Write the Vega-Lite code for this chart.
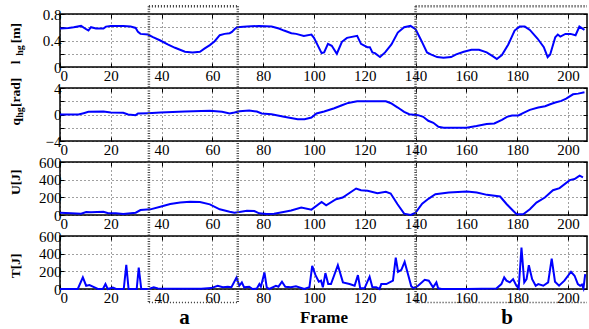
{
  "$schema": "https://vega.github.io/schema/vega-lite/v6.json",
  "padding": {"left": 7, "top": 4, "right": 1, "bottom": 0},
  "spacing": 21,
  "bounds": "flush",
  "config": {
    "view": {"stroke": "black", "strokeWidth": 1.5},
    "font": "Liberation Serif",
    "text": {"font": "Liberation Serif"},
    "axis": {"labelFont": "Liberation Serif", "labelFontSize": 15, "labelColor": "black", "domain": false, "grid": true, "gridColor": "black", "gridDash": [1, 3], "gridOpacity": 0.75, "tickColor": "black", "tickSize": -4, "labelPadding": 3, "titleFont": "Liberation Serif", "titleFontWeight": "bold", "titleColor": "black"},
    "axisX": {"labelPadding": 5}
  },
  "datasets": {
    "l": [{"f":0,"v":0.58},{"f":3.4,"v":0.59},{"f":5.4,"v":0.6},{"f":8.3,"v":0.62},{"f":10.3,"v":0.57},{"f":11.2,"v":0.55},{"f":12.2,"v":0.6},{"f":14.2,"v":0.58},{"f":17.1,"v":0.58},{"f":18.1,"v":0.61},{"f":20,"v":0.62},{"f":24.9,"v":0.62},{"f":27.8,"v":0.61},{"f":29.8,"v":0.59},{"f":30.7,"v":0.53},{"f":31.7,"v":0.5},{"f":34.6,"v":0.49},{"f":36.6,"v":0.45},{"f":39.5,"v":0.4},{"f":42.4,"v":0.34},{"f":45.3,"v":0.29},{"f":49.2,"v":0.23},{"f":52.2,"v":0.22},{"f":55.1,"v":0.23},{"f":57,"v":0.28},{"f":59,"v":0.33},{"f":60.9,"v":0.39},{"f":62.9,"v":0.48},{"f":64.8,"v":0.5},{"f":66.8,"v":0.51},{"f":67.7,"v":0.53},{"f":68.7,"v":0.57},{"f":69.7,"v":0.6},{"f":73.6,"v":0.61},{"f":78.4,"v":0.62},{"f":83.3,"v":0.61},{"f":86.2,"v":0.58},{"f":88.2,"v":0.55},{"f":91.1,"v":0.51},{"f":93,"v":0.5},{"f":96,"v":0.47},{"f":99,"v":0.49},{"f":100,"v":0.44},{"f":103,"v":0.21},{"f":104,"v":0.22},{"f":105.5,"v":0.35},{"f":107,"v":0.32},{"f":109,"v":0.2},{"f":111,"v":0.38},{"f":113,"v":0.44},{"f":117,"v":0.47},{"f":118.5,"v":0.35},{"f":121,"v":0.3},{"f":122,"v":0.3},{"f":123,"v":0.22},{"f":124,"v":0.21},{"f":126,"v":0.15},{"f":128,"v":0.22},{"f":130.5,"v":0.34},{"f":133,"v":0.52},{"f":135.5,"v":0.6},{"f":138,"v":0.62},{"f":140,"v":0.57},{"f":142,"v":0.42},{"f":144.5,"v":0.22},{"f":146,"v":0.19},{"f":148.5,"v":0.15},{"f":151,"v":0.14},{"f":154,"v":0.15},{"f":156,"v":0.19},{"f":159,"v":0.23},{"f":162,"v":0.26},{"f":165,"v":0.26},{"f":168,"v":0.22},{"f":170.5,"v":0.16},{"f":172,"v":0.12},{"f":174,"v":0.18},{"f":176.5,"v":0.34},{"f":179,"v":0.55},{"f":181,"v":0.61},{"f":183,"v":0.61},{"f":185,"v":0.56},{"f":188,"v":0.43},{"f":190.5,"v":0.3},{"f":192,"v":0.15},{"f":193,"v":0.19},{"f":195,"v":0.45},{"f":196,"v":0.49},{"f":197,"v":0.46},{"f":199,"v":0.5},{"f":201,"v":0.5},{"f":203,"v":0.48},{"f":204.5,"v":0.61},{"f":206.5,"v":0.56}],
    "q": [{"f":0,"v":0},{"f":7.3,"v":0},{"f":9.3,"v":0.2},{"f":11.2,"v":0.4},{"f":17.1,"v":0.45},{"f":20,"v":0.3},{"f":24.9,"v":0.25},{"f":26.8,"v":0},{"f":29.8,"v":-0.1},{"f":30.7,"v":0.15},{"f":34.6,"v":0.2},{"f":39.5,"v":0.3},{"f":49.2,"v":0.45},{"f":59,"v":0.55},{"f":63.8,"v":0.4},{"f":66.8,"v":0.15},{"f":68.7,"v":0.3},{"f":70.7,"v":0.5},{"f":74.5,"v":0.6},{"f":77.5,"v":0.45},{"f":79.4,"v":0.15},{"f":83.3,"v":0.05},{"f":88.2,"v":-0.35},{"f":93.6,"v":-0.7},{"f":96.3,"v":-0.7},{"f":99,"v":-0.45},{"f":101,"v":0.15},{"f":104,"v":0.45},{"f":108,"v":0.95},{"f":111,"v":1.4},{"f":113.5,"v":1.75},{"f":117,"v":2},{"f":123,"v":2},{"f":128.3,"v":2},{"f":130.3,"v":1.7},{"f":133,"v":1.05},{"f":135.5,"v":0.4},{"f":137.5,"v":0.05},{"f":141,"v":-0.1},{"f":143,"v":-0.35},{"f":145,"v":-0.95},{"f":147,"v":-1.25},{"f":149,"v":-1.85},{"f":151,"v":-2},{"f":160,"v":-2},{"f":164,"v":-1.75},{"f":168,"v":-1.45},{"f":171,"v":-1.35},{"f":174,"v":-0.8},{"f":176,"v":-0.35},{"f":178,"v":-0.15},{"f":180.5,"v":-0.15},{"f":182.5,"v":0.25},{"f":185,"v":0.7},{"f":188.3,"v":1.05},{"f":191,"v":1.25},{"f":193,"v":1.55},{"f":195,"v":1.8},{"f":197.4,"v":2.05},{"f":199.3,"v":2.4},{"f":202,"v":3.05},{"f":204,"v":3.15},{"f":206.5,"v":3.35}],
    "u": [{"f":0,"v":26},{"f":4.4,"v":19},{"f":8.3,"v":15},{"f":10.3,"v":34},{"f":12.2,"v":30},{"f":17.1,"v":37},{"f":19,"v":19},{"f":22,"v":19},{"f":24.9,"v":11},{"f":29.8,"v":26},{"f":31.7,"v":56},{"f":35.6,"v":64},{"f":39.5,"v":94},{"f":43.4,"v":124},{"f":47.3,"v":142},{"f":51.2,"v":150},{"f":55.1,"v":146},{"f":59,"v":120},{"f":62.9,"v":64},{"f":66.8,"v":37},{"f":68.7,"v":26},{"f":70.7,"v":34},{"f":73.6,"v":49},{"f":76.5,"v":45},{"f":78.4,"v":19},{"f":81.4,"v":11},{"f":84.3,"v":15},{"f":88,"v":35},{"f":91,"v":50},{"f":95,"v":84},{"f":99,"v":61},{"f":103,"v":148},{"f":104.8,"v":110},{"f":108.7,"v":179},{"f":111.3,"v":198},{"f":116.6,"v":300},{"f":118.5,"v":281},{"f":121.1,"v":274},{"f":125,"v":247},{"f":128.3,"v":262},{"f":130.2,"v":243},{"f":132.9,"v":122},{"f":135.5,"v":15},{"f":138.1,"v":0},{"f":140,"v":27},{"f":142.6,"v":129},{"f":145.2,"v":186},{"f":147.8,"v":236},{"f":153.1,"v":255},{"f":160.2,"v":266},{"f":164.1,"v":255},{"f":168.1,"v":228},{"f":173.3,"v":209},{"f":175.9,"v":122},{"f":178.5,"v":46},{"f":179.8,"v":8},{"f":182.4,"v":8},{"f":185,"v":65},{"f":187.6,"v":141},{"f":190.9,"v":198},{"f":194.1,"v":281},{"f":196.7,"v":304},{"f":200.7,"v":395},{"f":202.6,"v":407},{"f":204.6,"v":445},{"f":205.9,"v":426}],
    "t": [{"f":0,"v":0},{"f":7,"v":0},{"f":9,"v":131},{"f":10.3,"v":37},{"f":11.6,"v":45},{"f":13.6,"v":19},{"f":14.9,"v":0},{"f":16.9,"v":0},{"f":17.9,"v":56},{"f":18.8,"v":0},{"f":20.8,"v":15},{"f":22.1,"v":0},{"f":25.1,"v":0},{"f":26.1,"v":273},{"f":27,"v":0},{"f":30.2,"v":0},{"f":31,"v":243},{"f":32,"v":0},{"f":35,"v":0},{"f":36.9,"v":19},{"f":38.5,"v":5},{"f":45,"v":3},{"f":55.6,"v":3},{"f":59.5,"v":10},{"f":62.1,"v":37},{"f":64.1,"v":19},{"f":66.1,"v":26},{"f":67.5,"v":20},{"f":69.5,"v":131},{"f":70.6,"v":37},{"f":71.6,"v":75},{"f":72.5,"v":19},{"f":74.5,"v":26},{"f":75.8,"v":0},{"f":77.5,"v":5},{"f":78.5,"v":56},{"f":79.1,"v":26},{"f":80.5,"v":187},{"f":81.4,"v":19},{"f":82.4,"v":0},{"f":85,"v":37},{"f":86,"v":26},{"f":87.4,"v":82},{"f":88.7,"v":26},{"f":90.9,"v":19},{"f":92.9,"v":30},{"f":96.2,"v":0},{"f":98.2,"v":19},{"f":99.3,"v":262},{"f":100.6,"v":157},{"f":101.9,"v":82},{"f":102.8,"v":94},{"f":103.5,"v":19},{"f":104.5,"v":180},{"f":105.6,"v":56},{"f":106.7,"v":56},{"f":109.4,"v":270},{"f":111.4,"v":75},{"f":114,"v":56},{"f":116,"v":37},{"f":117.3,"v":157},{"f":118.2,"v":8},{"f":119.9,"v":8},{"f":121.9,"v":139},{"f":123,"v":19},{"f":124.5,"v":19},{"f":125.8,"v":0},{"f":126.5,"v":56},{"f":128.5,"v":56},{"f":131.1,"v":94},{"f":132.2,"v":356},{"f":133.1,"v":195},{"f":134.4,"v":217},{"f":135.7,"v":307},{"f":137,"v":169},{"f":138.3,"v":30},{"f":139.4,"v":8},{"f":141,"v":37},{"f":143.6,"v":105},{"f":145.2,"v":94},{"f":146.9,"v":19},{"f":148.2,"v":75},{"f":148.9,"v":8},{"f":150.2,"v":0},{"f":160,"v":0},{"f":171.8,"v":5},{"f":173.8,"v":56},{"f":174.9,"v":131},{"f":175.8,"v":94},{"f":177.1,"v":75},{"f":178.4,"v":112},{"f":179.7,"v":37},{"f":180.6,"v":8},{"f":181.7,"v":468},{"f":182.8,"v":75},{"f":183.7,"v":112},{"f":184.6,"v":270},{"f":185.9,"v":112},{"f":187.3,"v":37},{"f":188.3,"v":56},{"f":190.3,"v":37},{"f":192.2,"v":75},{"f":193.6,"v":345},{"f":194.9,"v":82},{"f":196.5,"v":37},{"f":198.6,"v":94},{"f":201.2,"v":195},{"f":202.6,"v":150},{"f":203.9,"v":56},{"f":204.8,"v":37},{"f":205.5,"v":50},{"f":206.1,"v":8},{"f":206.8,"v":169}],
    "vl": [{"f":35},{"f":70},{"f":140}],
    "br": [{"a":35,"b":70},{"a":140,"b":207.5}],
    "ab": [{"f":49,"s":"a"},{"f":176,"s":"b"}],
    "one": [{}]
  },
  "vconcat": [
    {
      "width": 527, "height": 53,
      "resolve": {"axis": {"x": "independent", "y": "independent"}},
      "layer": [
        {"data": {"name": "l"}, "mark": {"type": "line", "color": "#0000ff", "strokeWidth": 2},
         "encoding": {
           "x": {"field": "f", "type": "quantitative", "scale": {"domain": [0, 207.5], "nice": false, "zero": false}, "axis": {"values": [0,20,40,60,80,100,120,140,160,180,200], "title": null}},
           "y": {"field": "v", "type": "quantitative", "scale": {"domain": [0, 0.8], "nice": false}, "axis": {"values": [0,0.2,0.4,0.6,0.8], "title": null, "labelExpr": "datum.value == 0 ? '0' : format(datum.value, '.1f')"}}}},
        {"data": {"name": "l"}, "mark": {"type": "point", "opacity": 0},
         "encoding": {
           "x": {"field": "f", "type": "quantitative", "axis": {"orient": "top", "values": [0,20,40,60,80,100,120,140,160,180,200], "labels": false, "grid": false, "title": null}},
           "y": {"field": "v", "type": "quantitative", "axis": {"orient": "right", "values": [0,0.2,0.4,0.6,0.8], "labels": false, "grid": false, "title": null}}}},
        {"data": {"name": "vl"}, "mark": {"type": "rule", "color": "#444", "strokeWidth": 2.5, "strokeDash": [1, 1.5]},
         "encoding": {"x": {"field": "f", "type": "quantitative", "axis": null}, "y": {"datum": 0.916, "axis": null}, "y2": {"datum": -0.33}}},
        {"data": {"name": "br"}, "mark": {"type": "rule", "color": "#333", "strokeWidth": 2.5, "strokeDash": [1, 2]},
         "encoding": {"x": {"field": "a", "type": "quantitative", "axis": null}, "x2": {"field": "b"}, "y": {"datum": 0.916, "axis": null}}},
        {"data": {"name": "one"}, "mark": {"type": "text", "text": "l", "angle": 270, "align": "left", "baseline": "alphabetic", "font": "Liberation Serif", "fontWeight": "bold", "fontSize": 13.5},
         "encoding": {"x": {"datum": -15.9, "axis": null}, "y": {"datum": 0.04, "axis": null}}},
        {"data": {"name": "one"}, "mark": {"type": "text", "text": "hg", "angle": 270, "align": "left", "baseline": "alphabetic", "font": "Liberation Serif", "fontWeight": "bold", "fontSize": 10},
         "encoding": {"x": {"datum": -14.4, "axis": null}, "y": {"datum": 0.17, "axis": null}}},
        {"data": {"name": "one"}, "mark": {"type": "text", "text": "[m]", "angle": 270, "align": "left", "baseline": "alphabetic", "font": "Liberation Serif", "fontWeight": "bold", "fontSize": 13.5},
         "encoding": {"x": {"datum": -15.9, "axis": null}, "y": {"datum": 0.36, "axis": null}}}
      ]
    },
    {
      "width": 527, "height": 53,
      "resolve": {"axis": {"x": "independent", "y": "independent"}},
      "layer": [
        {"data": {"name": "q"}, "mark": {"type": "line", "color": "#0000ff", "strokeWidth": 2},
         "encoding": {
           "x": {"field": "f", "type": "quantitative", "scale": {"domain": [0, 207.5], "nice": false, "zero": false}, "axis": {"values": [0,20,40,60,80,100,120,140,160,180,200], "title": null}},
           "y": {"field": "v", "type": "quantitative", "scale": {"domain": [-4, 4], "nice": false}, "axis": {"values": [-4,-2,0,2,4], "title": null}}}},
        {"data": {"name": "q"}, "mark": {"type": "point", "opacity": 0},
         "encoding": {
           "x": {"field": "f", "type": "quantitative", "axis": {"orient": "top", "values": [0,20,40,60,80,100,120,140,160,180,200], "labels": false, "grid": false, "title": null}},
           "y": {"field": "v", "type": "quantitative", "axis": {"orient": "right", "values": [-4,-2,0,2,4], "labels": false, "grid": false, "title": null}}}},
        {"data": {"name": "vl"}, "mark": {"type": "rule", "color": "#444", "strokeWidth": 2.5, "strokeDash": [1, 1.5]},
         "encoding": {"x": {"field": "f", "type": "quantitative", "axis": null}, "y": {"datum": 4, "axis": null}, "y2": {"datum": -7.1}}},
        {"data": {"name": "one"}, "mark": {"type": "text", "text": "q", "angle": 270, "align": "left", "baseline": "alphabetic", "font": "Liberation Serif", "fontWeight": "bold", "fontSize": 13.5},
         "encoding": {"x": {"datum": -15.9, "axis": null}, "y": {"datum": -1.67, "axis": null}}},
        {"data": {"name": "one"}, "mark": {"type": "text", "text": "hg", "angle": 270, "align": "left", "baseline": "alphabetic", "font": "Liberation Serif", "fontWeight": "bold", "fontSize": 10},
         "encoding": {"x": {"datum": -14.4, "axis": null}, "y": {"datum": -0.49, "axis": null}}},
        {"data": {"name": "one"}, "mark": {"type": "text", "text": "[rad]", "angle": 270, "align": "left", "baseline": "alphabetic", "font": "Liberation Serif", "fontWeight": "bold", "fontSize": 13.5},
         "encoding": {"x": {"datum": -15.9, "axis": null}, "y": {"datum": 1.14, "axis": null}}}
      ]
    },
    {
      "width": 527, "height": 53,
      "resolve": {"axis": {"x": "independent", "y": "independent"}},
      "layer": [
        {"data": {"name": "u"}, "mark": {"type": "line", "color": "#0000ff", "strokeWidth": 2},
         "encoding": {
           "x": {"field": "f", "type": "quantitative", "scale": {"domain": [0, 207.5], "nice": false, "zero": false}, "axis": {"values": [0,20,40,60,80,100,120,140,160,180,200], "title": null}},
           "y": {"field": "v", "type": "quantitative", "scale": {"domain": [0, 600], "nice": false}, "axis": {"values": [0,200,400,600], "title": null}}}},
        {"data": {"name": "u"}, "mark": {"type": "point", "opacity": 0},
         "encoding": {
           "x": {"field": "f", "type": "quantitative", "axis": {"orient": "top", "values": [0,20,40,60,80,100,120,140,160,180,200], "labels": false, "grid": false, "title": null}},
           "y": {"field": "v", "type": "quantitative", "axis": {"orient": "right", "values": [0,200,400,600], "labels": false, "grid": false, "title": null}}}},
        {"data": {"name": "vl"}, "mark": {"type": "rule", "color": "#444", "strokeWidth": 2.5, "strokeDash": [1, 1.5]},
         "encoding": {"x": {"field": "f", "type": "quantitative", "axis": null}, "y": {"datum": 600, "axis": null}, "y2": {"datum": -238}}},
        {"data": {"name": "one"}, "mark": {"type": "text", "text": "U[J]", "angle": 270, "align": "center", "baseline": "alphabetic", "font": "Liberation Serif", "fontWeight": "bold", "fontSize": 13.5},
         "encoding": {"x": {"datum": -15.9, "axis": null}, "y": {"datum": 370, "axis": null}}}
      ]
    },
    {
      "width": 527, "height": 53,
      "resolve": {"axis": {"x": "independent", "y": "independent"}},
      "layer": [
        {"data": {"name": "t"}, "mark": {"type": "line", "color": "#0000ff", "strokeWidth": 2},
         "encoding": {
           "x": {"field": "f", "type": "quantitative", "scale": {"domain": [0, 207.5], "nice": false, "zero": false}, "axis": {"values": [0,20,40,60,80,100,120,140,160,180,200], "title": "Frame", "titleFontSize": 17, "titlePadding": 4}},
           "y": {"field": "v", "type": "quantitative", "scale": {"domain": [0, 600], "nice": false}, "axis": {"values": [0,200,400,600], "title": null}}}},
        {"data": {"name": "t"}, "mark": {"type": "point", "opacity": 0},
         "encoding": {
           "x": {"field": "f", "type": "quantitative", "axis": {"orient": "top", "values": [0,20,40,60,80,100,120,140,160,180,200], "labels": false, "grid": false, "title": null}},
           "y": {"field": "v", "type": "quantitative", "axis": {"orient": "right", "values": [0,200,400,600], "labels": false, "grid": false, "title": null}}}},
        {"data": {"name": "vl"}, "mark": {"type": "rule", "color": "#444", "strokeWidth": 2.5, "strokeDash": [1, 1.5]},
         "encoding": {"x": {"field": "f", "type": "quantitative", "axis": null}, "y": {"datum": 600, "axis": null}, "y2": {"datum": -154}}},
        {"data": {"name": "br"}, "mark": {"type": "rule", "color": "#333", "strokeWidth": 1.5, "strokeDash": [1, 2]},
         "encoding": {"x": {"field": "a", "type": "quantitative", "axis": null}, "x2": {"field": "b"}, "y": {"datum": -154, "axis": null}}},
        {"data": {"name": "ab"}, "mark": {"type": "text", "font": "Liberation Serif", "fontWeight": "bold", "fontSize": 21, "baseline": "alphabetic", "color": "black"},
         "encoding": {"x": {"field": "f", "type": "quantitative", "axis": null}, "y": {"datum": -391, "axis": null}, "text": {"field": "s"}}},
        {"data": {"name": "one"}, "mark": {"type": "text", "text": "T[J]", "angle": 270, "align": "center", "baseline": "alphabetic", "font": "Liberation Serif", "fontWeight": "bold", "fontSize": 13.5},
         "encoding": {"x": {"datum": -15.9, "axis": null}, "y": {"datum": 262, "axis": null}}}
      ]
    }
  ]
}
